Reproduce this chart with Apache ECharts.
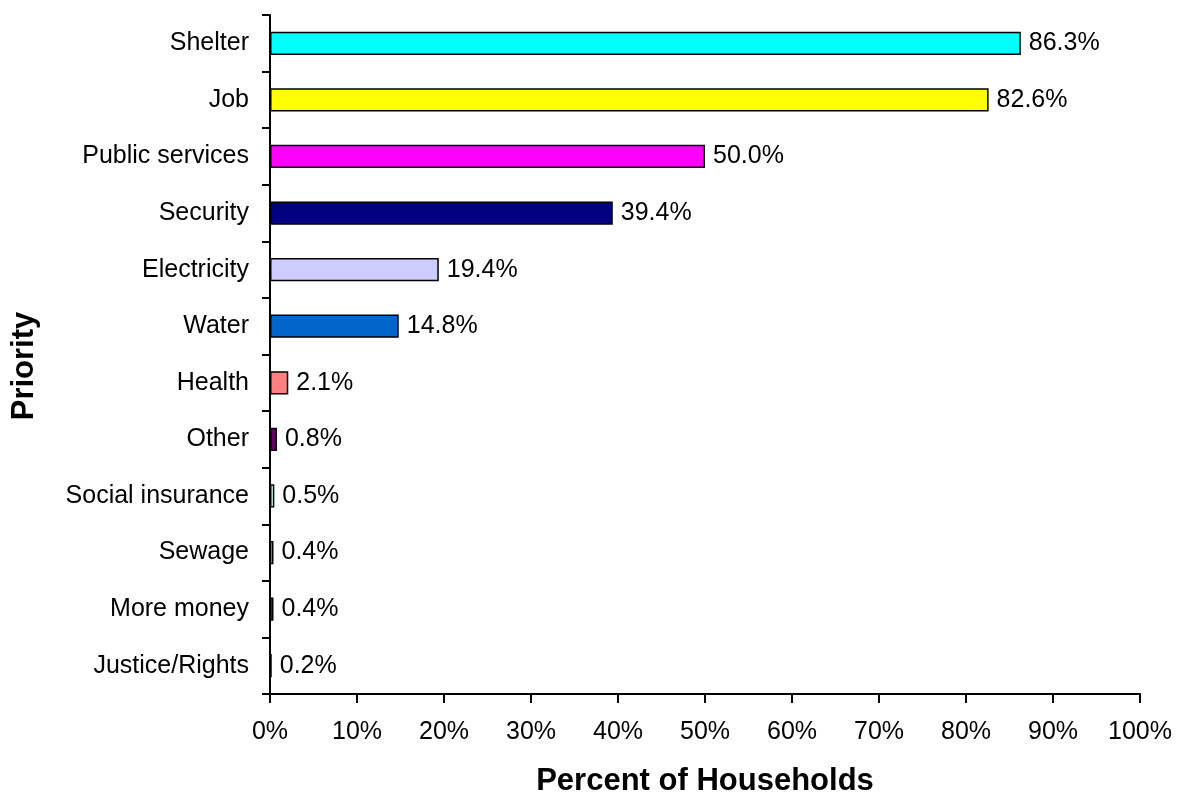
<!DOCTYPE html>
<html><head><meta charset="utf-8">
<script src="https://cdn.jsdelivr.net/npm/echarts@6/dist/echarts.min.js"></script>
<style>html,body{margin:0;padding:0;background:#fff}#c{width:1177px;height:799px}</style>
</head><body><div id="c"></div>
<script>
const categories = ["Shelter","Job","Public services","Security","Electricity","Water","Health","Other","Social insurance","Sewage","More money","Justice/Rights"];
const values = [86.3,82.6,50.0,39.4,19.4,14.8,2.1,0.8,0.5,0.4,0.4,0.2];
const barColors = ["#00FFFF","#FFFF00","#FF00FF","#000080","#CCCCFF","#0066CC","#FF8080","#660066","#CCFFFF","#FFFFCC","#993366","#9999FF"];
const xTicks = [0,10,20,30,40,50,60,70,80,90,100];

const font = "Liberation Sans, Arial, sans-serif";
const chart = echarts.init(document.getElementById('c'));
chart.setOption({
  animation:false,
  grid:{left:270,right:37,top:15,bottom:105,containLabel:false,outerBoundsMode:'none'},
  xAxis:{type:'value',min:xTicks[0],max:xTicks[xTicks.length-1],interval:10,
    name:'Percent of Households',nameLocation:'middle',nameGap:72,
    nameTextStyle:{fontFamily:font,fontSize:31,fontWeight:'bold',color:'#000'},
    axisLine:{show:true,lineStyle:{color:'#000',width:2}},
    axisTick:{show:true,length:9,lineStyle:{color:'#000',width:2}},
    axisLabel:{fontFamily:font,fontSize:25,color:'#000',margin:26,formatter:v=>v+'%'},
    splitLine:{show:false}},
  yAxis:{type:'category',data:categories,inverse:true,
    axisLine:{show:true,lineStyle:{color:'#000',width:2}},
    axisTick:{show:true,length:8,lineStyle:{color:'#000',width:2}},
    axisLabel:{fontFamily:font,fontSize:25,color:'#000',margin:21,padding:[4,0,0,0]}},
  graphic:[{type:'text',x:24,y:366,rotation:Math.PI/2,
    style:{text:'Priority',align:'center',verticalAlign:'middle',fontFamily:font,fontSize:31,fontWeight:'bold',fill:'#000'}}],
  series:[{type:'bar',barWidth:'41%',
    data:values.map((v,i)=>({value:v,itemStyle:{color:barColors[i]}})),
    itemStyle:{borderColor:'#000',borderWidth:1.5},
    label:{show:true,position:'right',distance:8,fontFamily:font,fontSize:25,color:'#000',formatter:p=>p.value.toFixed(1)+'%'}}]
});
</script></body></html>
